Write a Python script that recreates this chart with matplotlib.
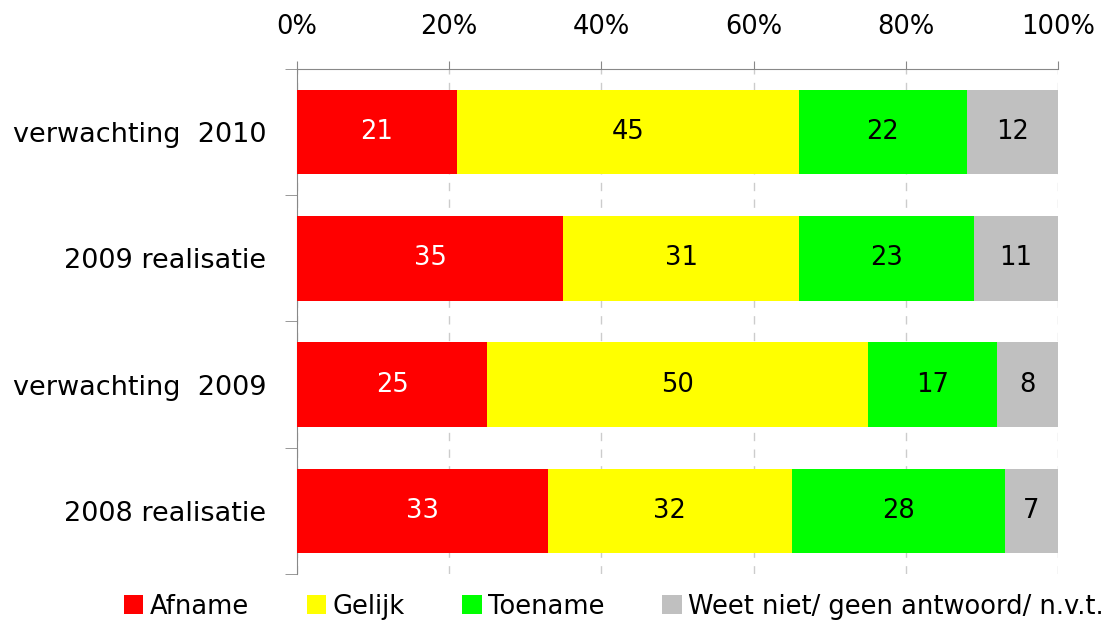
import numpy as np
import matplotlib
matplotlib.use("Agg")
import matplotlib.pyplot as plt
from matplotlib.patches import Patch

categories = ["verwachting  2010", "2009 realisatie", "verwachting  2009", "2008 realisatie"]
afname = [21, 35, 25, 33]
gelijk = [45, 31, 50, 32]
toename = [22, 23, 17, 28]
weet_niet = [12, 11, 8, 7]

series = [("Afname", afname, "#ff0000", "white"),
          ("Gelijk", gelijk, "#ffff00", "black"),
          ("Toename", toename, "#00ff00", "black"),
          ("Weet niet/ geen antwoord/ n.v.t.", weet_niet, "#c0c0c0", "black")]

plt.rcParams['font.family'] = ['DejaVu Sans']
fs = 18.5

fig = plt.figure(figsize=(11.06, 6.21), dpi=100)
ax = fig.add_axes([0.2685, 0.0757, 0.688, 0.8133])

y = np.arange(len(categories))
totals = np.sum([s[1] for s in series], axis=0)
left = np.zeros(len(categories))
for name, vals, col, tcol in series:
    frac = np.array(vals) / totals * 100
    ax.barh(y, frac, left=left, height=0.67, color=col, label=name, zorder=3)
    for yi, l, f, v in zip(y, left, frac, vals):
        ax.text(l + f / 2, yi, str(v), ha="center", va="center",
                color=tcol, fontsize=fs, zorder=4)
    left += frac

ax.set_xlim(0, 100)
ax.set_ylim(len(categories) - 0.5, -0.5)
ax.xaxis.tick_top()
ax.set_xticks(np.arange(0, 101, 20))
ax.set_xticklabels([f"{v}%" for v in range(0, 101, 20)], fontsize=fs)
ax.tick_params(axis="x", direction="out", length=6, color="#888888", pad=15)

ax.set_yticks(y)
ax.set_yticklabels(categories, fontsize=19.5)
ax.set_yticks(np.arange(-0.5, len(categories), 1), minor=True)
ax.tick_params(axis="y", which="major", length=0, pad=22)
ax.tick_params(axis="y", which="minor", length=9, color="#888888")

ax.grid(axis="x", color="#cccccc", linestyle=(0, (6, 6)), linewidth=1, zorder=0)
for s in ["right", "bottom"]:
    ax.spines[s].set_visible(False)
for s in ["left", "top"]:
    ax.spines[s].set_color("#888888")

handles = [Patch(facecolor=c, label=n) for n, _, c, _ in series]
fig.legend(handles=handles, loc="lower center", bbox_to_anchor=(0.555, -0.035),
           ncol=4, frameon=False, fontsize=fs, handlelength=0.75, handleheight=0.75,
           handletextpad=0.25, columnspacing=2.25)

fig.savefig("out.png", dpi=100)
